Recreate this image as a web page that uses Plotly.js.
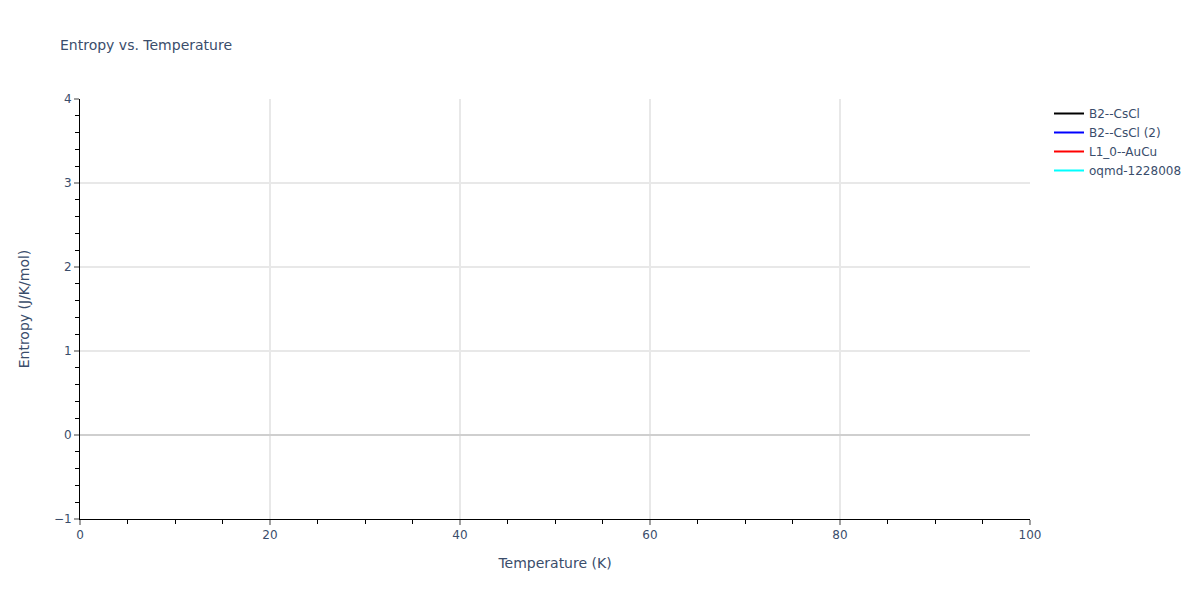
<!DOCTYPE html>
<html>
<head>
<meta charset="utf-8">
<script src="https://cdn.plot.ly/plotly-3.0.1.min.js"></script>
<style>
  html, body { margin: 0; padding: 0; background: #fff; }
  #chart { width: 1200px; height: 600px; }
</style>
</head>
<body>
<div id="chart"></div>
<script>
// series names and colours, as in the legend
const seriesNames = ['B2--CsCl', 'B2--CsCl (2)', 'L1_0--AuCu', 'oqmd-1228008'];
const seriesColors = ['black', 'blue', 'red', 'cyan'];

// the reference draws no visible points: temperatures exist but entropies are missing
const temperature = [0, 10, 20, 30, 40, 50, 60, 70, 80, 90, 100];
const entropyB2 = [null, null, null, null, null, null, null, null, null, null, null];
const entropyB2b = [null, null, null, null, null, null, null, null, null, null, null];
const entropyL10 = [null, null, null, null, null, null, null, null, null, null, null];
const entropyOqmd = [null, null, null, null, null, null, null, null, null, null, null];

const ys = [entropyB2, entropyB2b, entropyL10, entropyOqmd];

const data = seriesNames.map((name, i) => ({
  type: 'scatter',
  mode: 'lines',
  name,
  x: temperature,
  y: ys[i],
  line: { color: seriesColors[i], width: 2 }
}));

const FONT = '"DejaVu Sans", Verdana, sans-serif';
const TEXT = '#3a4d6b';

const axisBase = {
  showline: true,
  linecolor: 'black',
  linewidth: 1,
  ticks: 'outside',
  ticklen: 5,
  tickwidth: 2,
  tickcolor: '#a0a0a0',
  gridcolor: '#e8e8e8',
  gridwidth: 2,
  zeroline: true,
  zerolinecolor: '#cfcfcf',
  zerolinewidth: 2,
  tickfont: { size: 12, color: TEXT },
  minor: { ticks: 'outside', ticklen: 4, tickwidth: 1, tickcolor: 'black', showgrid: false }
};

const layout = {
  width: 1200,
  height: 600,
  paper_bgcolor: 'white',
  plot_bgcolor: 'white',
  font: { family: FONT, color: TEXT, size: 12 },
  title: { text: 'Entropy vs. Temperature', x: 0.05, font: { size: 14 } },
  margin: { l: 80, r: 170, t: 99, b: 81 },
  showlegend: true,
  legend: { x: 1.02, y: 1, font: { size: 12 } },
  xaxis: Object.assign({}, axisBase, {
    title: { text: 'Temperature (K)', font: { size: 14 }, standoff: 16 },
    range: [0, 100],
    dtick: 20,
    minor: Object.assign({}, axisBase.minor, { dtick: 5 })
  }),
  yaxis: Object.assign({}, axisBase, {
    title: { text: 'Entropy (J/K/mol)', font: { size: 14 }, standoff: 20 },
    range: [-1, 4],
    dtick: 1,
    minor: Object.assign({}, axisBase.minor, { dtick: 0.2 })
  })
};

Plotly.newPlot('chart', data, layout, { displayModeBar: false });
</script>
</body>
</html>
